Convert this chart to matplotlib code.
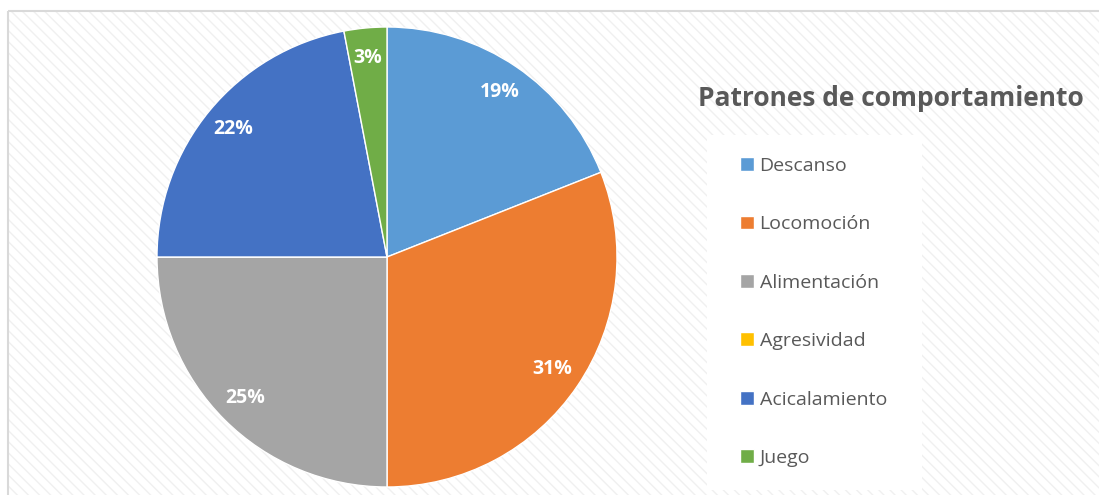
import matplotlib.pyplot as plt
from matplotlib.patches import Rectangle

# data
categories = ['Descanso', 'Locomoción', 'Alimentación', 'Agresividad', 'Acicalamiento', 'Juego']
values = [19, 31, 25, 0, 22, 3]
colors = ['#5B9BD5', '#ED7D31', '#A5A5A5', '#FFC000', '#4472C4', '#70AD47']
title = 'Patrones de comportamiento'

plt.rcParams['font.family'] = ['Open Sans', 'DejaVu Sans']
plt.rcParams['hatch.linewidth'] = 1.0

W, H = 1099, 495
fig = plt.figure(figsize=(W / 100, H / 100), dpi=100)
fig.patch.set_facecolor('white')

# background with faint diagonal pattern
bg = fig.add_axes([0, 0, 1, 1])
bg.set_xlim(0, W)
bg.set_ylim(H, 0)
bg.axis('off')
bg.add_patch(Rectangle((8, 11), W, H, facecolor='white', edgecolor='#F0F0F0',
                       hatch='\\\\\\', linewidth=0))
bg.add_patch(Rectangle((8, 11), W, H, facecolor='none', edgecolor='#D9D9D9', linewidth=1.5))
# legend area
bg.add_patch(Rectangle((707, 135), 215, 355, facecolor='white', edgecolor='none'))

# pie
cx, cy, r = 387, 257, 230
ax = fig.add_axes([(cx - r) / W, (H - cy - r) / H, 2 * r / W, 2 * r / H])


def fmt(p):
    return f'{p:.0f}%' if p > 0.5 else ''


wedges, texts, autotexts = ax.pie(values, colors=colors, startangle=90, counterclock=False,
                                  autopct=fmt, pctdistance=0.87,
                                  wedgeprops=dict(edgecolor='white', linewidth=1),
                                  textprops=dict(color='white', fontsize=14, fontweight='bold'))
ax.set_xlim(-1.0, 1.0)
ax.set_ylim(-1.0, 1.0)
ax.set_aspect('equal')
ax.axis('off')

fig.text(891 / W, 1 - 98 / H, title, ha='center', va='center', fontsize=19,
         fontweight='bold', color='#595959')

leg = fig.legend(wedges, categories, loc='center left', bbox_to_anchor=(730 / W, 1 - 312 / H),
                 frameon=False, fontsize=14, labelcolor='#595959', borderpad=0,
                 handlelength=0.72, handleheight=0.72, handletextpad=0.3, labelspacing=2.08)

fig.savefig('out.png', dpi=100)
